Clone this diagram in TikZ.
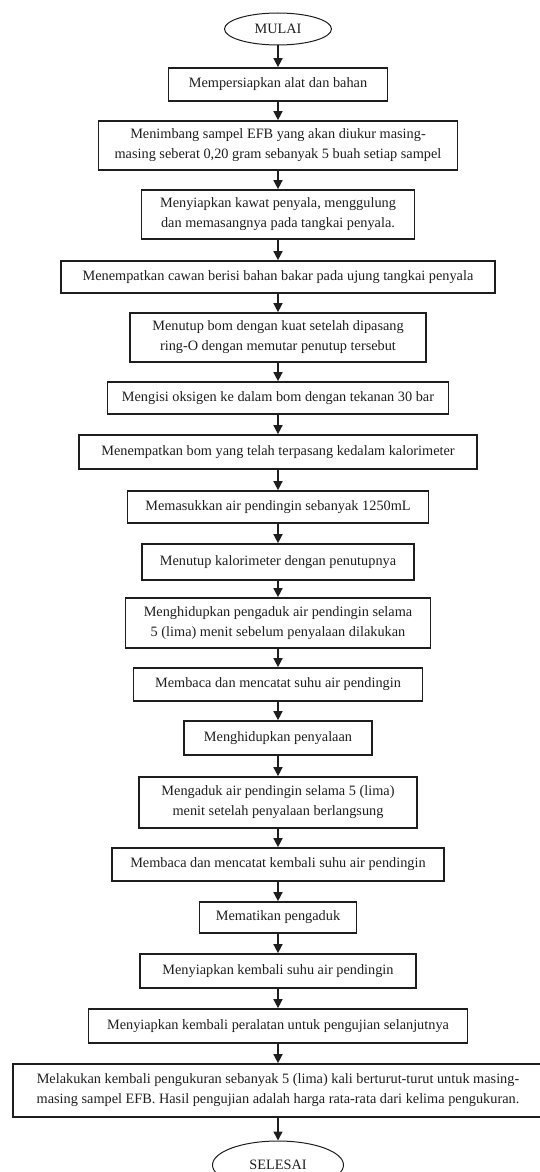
\documentclass[tikz,border=0pt]{standalone}
\usepackage{fontspec}
\setmainfont{Liberation Serif}
\usetikzlibrary{arrows.meta,shapes.geometric}
\definecolor{ink}{RGB}{30,30,30}
\tikzset{
  >={Triangle[length=9pt,width=9pt]},
  box/.style={draw=ink,line width=1.7pt,inner sep=2pt,align=center,
    font=\fontsize{14.3}{20}\selectfont,text=ink},
  term/.style={ellipse,draw=ink,line width=1pt,inner sep=0pt,
    font=\fontsize{14.3}{20}\selectfont,text=ink},
  flow/.style={->,line width=1.5pt,draw=ink},
}
\newcommand{\koma}{,}

\begin{document}
\begin{tikzpicture}[x=1pt,y=-1pt]
  \useasboundingbox (0,0) rectangle (540,1172);
  \node[term,minimum width=107pt,minimum height=32pt] (mulai) at (278,29) {MULAI};
  \foreach \y/\w/\h/\t [count=\i] in {
    84.5/219/33/Mempersiapkan alat dan bahan,
    145.5/359/49/Menimbang sampel EFB yang akan diukur masing-\\masing seberat 0\koma20 gram sebanyak 5 buah setiap sampel,
    214.5/273/49/Menyiapkan kawat penyala\koma{} menggulung\\dan memasangnya pada tangkai penyala.,
    277/434/32/Menempatkan cawan berisi bahan bakar pada ujung tangkai penyala,
    337.5/296/49/Menutup bom dengan kuat setelah dipasang\\ring-O dengan memutar penutup tersebut,
    398/341/32/Mengisi oksigen ke dalam bom dengan tekanan 30 bar,
    452/398/34/Menempatkan bom yang telah terpasang kedalam kalorimeter,
    507/301/32/Memasukkan air pendingin sebanyak 1250mL,
    562/272/36/Menutup kalorimeter dengan penutupnya,
    623/305/50/Menghidupkan pengaduk air pendingin selama\\5 (lima) menit sebelum penyalaan dilakukan,
    684.5/289/33/Membaca dan mencatat suhu air pendingin,
    738/188/34/Menghidupkan penyalaan,
    802.5/278/51/Mengaduk air pendingin selama 5 (lima)\\menit setelah penyalaan berlangsung,
    864.5/332/33/Membaca dan mencatat kembali suhu air pendingin,
    917.5/157/31/Mematikan pengaduk,
    971/276/34/Menyiapkan kembali suhu air pendingin,
    1026/379/34/Menyiapkan kembali peralatan untuk pengujian selanjutnya,
    1090.5/530/53/Melakukan kembali pengukuran sebanyak 5 (lima) kali berturut-turut untuk masing-\\masing sampel EFB. Hasil pengujian adalah harga rata-rata dari kelima pengukuran.}{
    \node[box,minimum width=\w pt,minimum height=\h pt] (b\i) at (278,\y) {\t};
  }
  \node[term,minimum width=131pt,minimum height=48pt] (selesai) at (278,1165) {SELESAI};
  \draw[flow] (mulai) -- (b1);
  \foreach \i [evaluate=\i as \j using int(\i+1)] in {1,...,17} \draw[flow] (b\i) -- (b\j);
  \draw[flow] (b18) -- (selesai);
\end{tikzpicture}
\end{document}
